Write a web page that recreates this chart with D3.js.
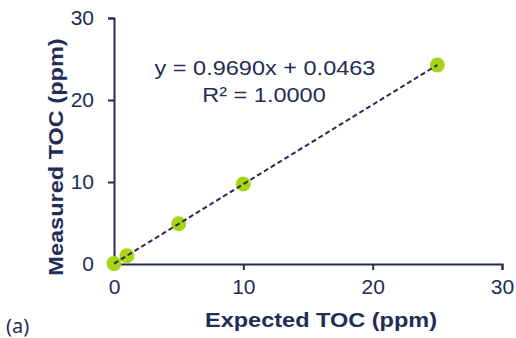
<!DOCTYPE html>
<html>
<head>
<meta charset="utf-8">
<script src="https://cdn.jsdelivr.net/npm/d3@7"></script>
<style>
  body { margin: 0; background: #fff; }
  svg text { font-family: "Liberation Sans", Arial, sans-serif; }
</style>
</head>
<body>
<svg id="chart" width="516" height="338"></svg>
<script>
// data
const expected = [0, 1, 5, 10, 25]
const measured = [0.05, 1.0, 4.9, 9.75, 24.27]
const slope = 0.9690
const intercept = 0.0463
const xTicks = [0, 10, 20, 30]
const yTicks = [0, 10, 20, 30]

const navy = "#232c55"
const green = "#a8d414"

const margin = {top: 18, left: 114}
const plotW = 502 - margin.left
const plotH = 264 - margin.top
const stretch = 1.12  // the source image is a bit wider than tall

const svg = d3.select("#chart")
const plot = svg.append("g")
  .attr("transform", "translate(" + margin.left + "," + margin.top + ")")

const x = d3.scaleLinear().domain([0, 30]).range([0, plotW])
const y = d3.scaleLinear().domain([0, 30]).range([plotH, 0])

function styleAxis(g) {
  g.select(".domain").attr("stroke", navy).attr("stroke-width", 2)
  g.selectAll(".tick line").attr("stroke", navy).attr("stroke-width", 2)
  g.selectAll(".tick text").attr("fill", navy).attr("font-size", 21)
}

plot.append("g")
  .attr("transform", "translate(0," + plotH + ")")
  .call(d3.axisBottom(x).tickValues(xTicks).tickSize(6).tickSizeOuter(6).tickPadding(9))
  .call(styleAxis)

plot.append("g")
  .call(d3.axisLeft(y).tickValues(yTicks).tickSize(6).tickSizeOuter(6).tickPadding(14))
  .call(styleAxis)

// points
const pts = expected.map((e, i) => ({x: e, y: measured[i]}))
plot.selectAll("circle")
  .data(pts)
  .enter().append("circle")
  .attr("cx", d => x(d.x))
  .attr("cy", d => y(d.y))
  .attr("r", 7.5)
  .attr("fill", green)

// linear trendline
const fit = [0, 25].map(v => ({x: v, y: slope * v + intercept}))
plot.append("path")
  .datum(fit)
  .attr("fill", "none")
  .attr("stroke", navy)
  .attr("stroke-width", 2)
  .attr("stroke-dasharray", "5,3")
  .attr("d", d3.line().x(d => x(d.x)).y(d => y(d.y)))

function label(tx, ty, txt, opts) {
  opts = opts || {}
  return svg.append("text")
    .attr("transform", "translate(" + tx + "," + ty + ")" + (opts.rotate ? " rotate(" + opts.rotate + ")" : "") + " scale(" + stretch + ",1)")
    .attr("text-anchor", "middle")
    .attr("font-size", 21)
    .attr("font-weight", opts.bold ? "bold" : null)
    .attr("fill", navy)
    .text(txt)
}

// equation
label(265, 75, "y = 0.9690x + 0.0463")
label(264, 102, "R² = 1.0000")

// axis titles
label(321, 327, "Expected TOC (ppm)", {bold: true})
label(63, 157, "Measured TOC (ppm)", {bold: true, rotate: -90})

svg.append("text")
  .attr("x", 6).attr("y", 333)
  .attr("font-size", 20)
  .attr("fill", navy)
  .style("font-family", "'Noto Sans', sans-serif")
  .text("(a)")
</script>
</body>
</html>
